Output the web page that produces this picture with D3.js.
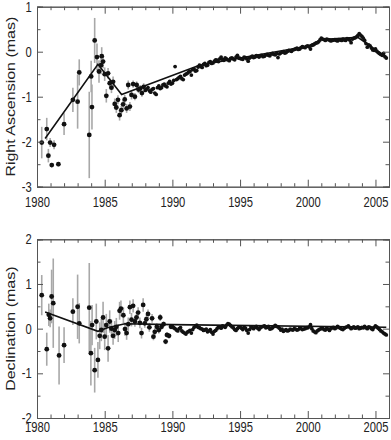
<!DOCTYPE html>
<html><head><meta charset="utf-8">
<script src="https://cdn.jsdelivr.net/npm/d3@7"></script>
<style>body{margin:0;background:#fff}svg{display:block}</style>
</head><body>
<svg id="c" width="391" height="440"></svg>
<script>
// ---------- data ----------
const xMajor = [1980, 1985, 1990, 1995, 2000, 2005];
const xMinor = [1981,1982,1983,1984,1986,1987,1988,1989,1991,1992,1993,1994,1996,1997,1998,1999,2001,2002,2003,2004,2006];
const raTicks = [-3, -2, -1, 0, 1];
const raMinor = [-2.5, -1.5, -0.5, 0.5];
const decTicks = [-2, -1, 0, 1, 2];
const decMinor = [-1.5, -0.5, 0.5, 1.5];

// Right ascension: early epochs with error bars
const raYear = [1980.35,1980.72,1980.84,1980.97,1981.09,1981.26,1981.58,1982.00,1982.65,1983.00,1983.12,1983.86,1984.00,1984.06,1984.26,1984.43,1984.58,1984.73,1984.78,1984.88,1985.00,1985.12,1985.25,1985.37,1985.50,1985.62,1985.74,1985.86,1985.98,1986.10,1986.23,1986.36,1986.48,1986.62,1986.74,1986.86,1986.98,1987.10,1987.23,1987.36,1987.50,1987.62,1987.75,1987.88];
const raVal  = [-2.02,-1.72,-2.31,-2.02,-2.52,-2.07,-2.50,-1.61,-1.07,-1.11,-0.46,-1.85,-0.55,-1.23,0.25,-0.12,-0.44,-0.30,-0.10,-0.22,-0.50,-0.98,-0.48,-0.70,-0.80,-0.67,-1.16,-1.24,-1.07,-1.41,-1.30,-1.17,-1.06,-1.26,-0.74,-1.22,-0.96,-0.72,-1.00,-0.74,-0.84,-0.82,-0.92,-0.78];
const raErr  = [0.35,0.25,0.15,0.10,0.05,0.10,0.05,0.24,0.27,0.60,0.29,0.96,0.35,0.50,0.50,0.30,0.25,0.20,0.20,0.15,0.15,0.15,0.12,0.12,0.12,0.12,0.12,0.12,0.10,0.12,0.10,0.10,0.10,0.10,0.10,0.10,0.10,0.08,0.08,0.08,0.08,0.08,0.08,0.08];
// Right ascension: dense recent epochs (two interleaved sets)
const raDenseYear = [1988.0,1988.2,1988.4,1988.6,1988.8,1989.0,1989.2,1989.4,1989.6,1989.8,1990.0,1990.2,1990.4,1990.6,1990.8,1991.0,1991.2,1991.4,1991.6,1991.8,1992.0,1992.2,1992.4,1992.6,1992.8,1993.0,1993.2,1993.4,1993.6,1993.8,1994.0,1994.2,1994.4,1994.6,1994.8,1995.0,1995.2,1995.4,1995.6,1995.8,1996.0,1996.2,1996.4,1996.6,1996.8,1997.0,1997.2,1997.4,1997.6,1997.8,1998.0,1998.2,1998.4,1998.6,1998.8,1999.0,1999.2,1999.4,1999.6,1999.8,2000.0,2000.2,2000.4,2000.6,2000.8,2001.0,2001.2,2001.4,2001.6,2001.8,2002.0,2002.2,2002.4,2002.6,2002.8,2003.0,2003.2,2003.4,2003.6,2003.8,2004.0,2004.2,2004.4,2004.6,2004.8,2005.0,2005.2,2005.4,2005.6,2005.8];
const raDenseVal = [-0.86,-0.80,-0.90,-0.82,-0.95,-0.76,-0.80,-0.72,-0.78,-0.66,-0.70,-0.33,-0.60,-0.55,-0.62,-0.50,-0.45,-0.52,-0.38,-0.42,-0.30,-0.35,-0.26,-0.30,-0.22,-0.25,-0.18,-0.22,-0.12,-0.19,-0.16,-0.20,-0.14,-0.18,-0.08,-0.15,-0.17,-0.13,-0.21,-0.12,-0.13,-0.09,-0.12,-0.08,-0.10,-0.06,-0.09,-0.04,-0.07,-0.13,-0.03,0.00,-0.02,0.03,0.01,0.05,0.08,0.06,0.11,0.09,0.13,0.06,0.15,0.19,0.22,0.30,0.27,0.28,0.26,0.25,0.27,0.24,0.26,0.28,0.25,0.28,0.20,0.30,0.33,0.40,0.34,0.25,0.10,0.13,0.04,0.06,-0.02,-0.06,-0.04,-0.14];
const raDense2Year = [1988.1,1988.3,1988.5,1988.7,1988.9,1989.1,1989.3,1989.5,1989.7,1989.9,1990.1,1990.3,1990.5,1990.7,1990.9,1991.1,1991.3,1991.5,1991.7,1991.9,1992.1,1992.3,1992.5,1992.7,1992.9,1993.1,1993.3,1993.5,1993.7,1993.9,1994.1,1994.3,1994.5,1994.7,1994.9,1995.1,1995.3,1995.5,1995.7,1995.9,1996.1,1996.3,1996.5,1996.7,1996.9,1997.1,1997.3,1997.5,1997.7,1997.9,1998.1,1998.3,1998.5,1998.7,1998.9,1999.1,1999.3,1999.5,1999.7,1999.9,2000.1,2000.3,2000.5,2000.7,2000.9,2001.1,2001.3,2001.5,2001.7,2001.9,2002.1,2002.3,2002.5,2002.7,2002.9,2003.1,2003.3,2003.5,2003.7,2003.9,2004.1,2004.3,2004.5,2004.7,2004.9,2005.1,2005.3,2005.5,2005.7];
const raDense2Val = [-0.83,-0.87,-0.84,-0.92,-0.80,-0.82,-0.74,-0.76,-0.70,-0.72,-0.64,-0.62,-0.57,-0.60,-0.52,-0.48,-0.44,-0.40,-0.43,-0.34,-0.33,-0.28,-0.31,-0.24,-0.26,-0.21,-0.19,-0.16,-0.17,-0.14,-0.18,-0.15,-0.16,-0.12,-0.14,-0.16,-0.12,-0.16,-0.14,-0.10,-0.12,-0.10,-0.09,-0.11,-0.07,-0.08,-0.05,-0.06,-0.04,-0.05,-0.01,-0.03,0.01,0.02,0.04,0.06,0.05,0.09,0.10,0.12,0.11,0.14,0.17,0.20,0.26,0.28,0.25,0.27,0.24,0.26,0.25,0.27,0.25,0.26,0.29,0.26,0.28,0.31,0.36,0.37,0.30,0.18,0.15,0.08,0.03,0.01,-0.04,-0.08,-0.11];
const raFitYear = [1980.6,1984.5,1986.25,1992.0,1995.0,2000.0,2001.0,2003.7,2005.8];
const raFitVal  = [-1.93,-0.28,-0.95,-0.30,-0.14,0.12,0.27,0.32,-0.12];

// Declination: early epochs with error bars
const decYear = [1980.35,1980.72,1980.87,1980.97,1981.08,1981.20,1981.63,1982.00,1982.65,1983.00,1983.12,1983.86,1983.98,1984.07,1984.26,1984.38,1984.50,1984.63,1984.75,1984.88,1985.00,1985.12,1985.25,1985.37,1985.50,1985.62,1985.74,1985.86,1986.00,1986.10,1986.20,1986.38,1986.50,1986.62,1986.74,1986.86,1986.98,1987.10,1987.23,1987.35,1987.47,1987.60,1987.72,1987.84,1987.96,1988.08,1988.20,1988.30,1988.50,1988.60,1988.70,1988.85,1989.00,1989.10,1989.20,1989.35,1989.50,1989.60,1989.75,1989.90];
const decVal  = [0.75,-0.46,0.31,0.23,0.72,0.57,-0.60,-0.37,0.38,0.49,0.12,0.47,-0.55,0.08,-0.93,0.16,-0.70,-0.16,-0.03,0.25,-0.18,0.08,-0.44,0.16,0.00,-0.16,-0.03,0.04,-0.10,0.40,0.45,0.30,-0.01,-0.10,0.10,0.48,0.20,0.51,0.16,0.25,0.36,0.13,-0.10,0.53,0.12,0.21,0.33,0.03,0.23,-0.18,-0.07,0.04,-0.03,0.25,0.04,0.10,-0.29,-0.14,-0.16,0.04];
const decErr  = [0.45,0.37,0.25,0.20,0.60,1.00,0.65,0.40,0.30,0.72,0.45,1.00,0.72,0.45,0.50,0.40,0.40,0.30,0.25,0.35,0.30,0.25,0.30,0.25,0.20,0.20,0.20,0.20,0.20,0.20,0.18,0.18,0.15,0.15,0.15,0.15,0.15,0.15,0.12,0.12,0.12,0.12,0.12,0.15,0.10,0.10,0.10,0.10,0.10,0.08,0.08,0.08,0.08,0.08,0.06,0.06,0.06,0.06,0.06,0.05];
// Declination: dense recent epochs (two interleaved sets)
const decDenseYear = [1990.0,1990.2,1990.4,1990.6,1990.8,1991.0,1991.2,1991.4,1991.6,1991.8,1992.0,1992.2,1992.4,1992.6,1992.8,1993.0,1993.2,1993.4,1993.6,1993.8,1994.0,1994.2,1994.4,1994.6,1994.8,1995.0,1995.2,1995.4,1995.6,1995.8,1996.0,1996.2,1996.4,1996.6,1996.8,1997.0,1997.2,1997.4,1997.6,1997.8,1998.0,1998.2,1998.4,1998.6,1998.8,1999.0,1999.2,1999.4,1999.6,1999.8,2000.0,2000.2,2000.4,2000.6,2000.8,2001.0,2001.2,2001.4,2001.6,2001.8,2002.0,2002.2,2002.4,2002.6,2002.8,2003.0,2003.2,2003.4,2003.6,2003.8,2004.0,2004.2,2004.4,2004.6,2004.8,2005.0,2005.2,2005.4,2005.6,2005.8];
const decDenseVal = [0.05,0.00,-0.05,0.02,-0.08,-0.12,-0.06,-0.10,0.03,0.08,0.02,-0.01,-0.03,-0.07,-0.02,-0.12,-0.04,0.04,0.01,0.05,0.08,0.10,0.04,-0.02,0.00,0.04,-0.02,0.01,-0.10,0.04,0.00,0.05,-0.02,0.04,0.06,0.03,-0.01,0.02,0.07,0.04,-0.03,-0.06,-0.02,-0.04,-0.02,0.00,-0.03,0.01,-0.02,0.00,0.02,0.09,-0.05,-0.09,-0.03,0.00,-0.02,0.01,-0.04,0.02,0.00,0.05,0.01,-0.02,0.03,0.06,0.00,0.04,0.02,0.00,0.03,0.05,0.00,0.03,-0.02,0.06,0.01,-0.05,-0.10,-0.14];
const decDense2Year = [1990.1,1990.3,1990.5,1990.7,1990.9,1991.1,1991.3,1991.5,1991.7,1991.9,1992.1,1992.3,1992.5,1992.7,1992.9,1993.1,1993.3,1993.5,1993.7,1993.9,1994.1,1994.3,1994.5,1994.7,1994.9,1995.1,1995.3,1995.5,1995.7,1995.9,1996.1,1996.3,1996.5,1996.7,1996.9,1997.1,1997.3,1997.5,1997.7,1997.9,1998.1,1998.3,1998.5,1998.7,1998.9,1999.1,1999.3,1999.5,1999.7,1999.9,2000.1,2000.3,2000.5,2000.7,2000.9,2001.1,2001.3,2001.5,2001.7,2001.9,2002.1,2002.3,2002.5,2002.7,2002.9,2003.1,2003.3,2003.5,2003.7,2003.9,2004.1,2004.3,2004.5,2004.7,2004.9,2005.1,2005.3,2005.5,2005.7];
const decDense2Val = [0.02,-0.03,0.00,-0.05,-0.10,-0.08,-0.04,-0.02,0.05,0.03,0.00,-0.04,-0.01,-0.05,-0.08,-0.06,0.00,0.03,0.06,0.03,0.11,0.07,0.02,-0.04,0.03,0.01,0.03,-0.04,-0.02,0.02,0.03,0.01,0.02,0.05,0.02,0.05,0.00,0.05,0.05,0.01,-0.01,-0.04,-0.05,-0.01,-0.03,-0.01,-0.02,0.00,-0.01,0.02,0.04,0.00,-0.07,-0.05,-0.01,0.01,-0.03,-0.01,0.00,0.03,0.02,0.03,-0.01,0.01,0.04,0.03,0.02,0.01,0.04,0.01,0.02,0.02,0.04,0.00,0.03,0.04,-0.02,-0.07,-0.12];
const decFitYear = [1980.6,1984.5,1985.2,1986.5,1990.0,2005.8];
const decFitVal  = [0.37,-0.06,0.02,0.11,0.09,0.03];

const raTitle = "Right Ascension (mas)";
const decTitle = "Declination (mas)";

// ---------- drawing ----------
const svg = d3.select("#c");
const X0 = 37, X1 = 389;
const x = d3.scaleLinear().domain([1980, 2006]).range([X0, X1]);
const FONT = "'Liberation Sans', Arial, Helvetica, sans-serif";
const SQ = 0.8; // horizontal squeeze of the glyphs in the reference

function panel(opt) {
  const y = d3.scaleLinear().domain(opt.domain).range([opt.bottom, opt.top]);
  const g = svg.append("g");
  const frameCol = "#555";
  const dYear = opt.dYear.concat(opt.d2Year), dVal = opt.dVal.concat(opt.d2Val);

  // error bars
  g.append("g").selectAll("line").data(opt.year.map((d, i) => i)).join("line")
    .attr("x1", i => x(opt.year[i])).attr("x2", i => x(opt.year[i]))
    .attr("y1", i => y(opt.val[i] - opt.err[i])).attr("y2", i => y(opt.val[i] + opt.err[i]))
    .attr("stroke", "#a8a8a8").attr("stroke-width", 1.6);

  // fit line
  const line = d3.line().x(i => x(opt.fitYear[i])).y(i => y(opt.fitVal[i]));
  g.append("path").attr("d", line(opt.fitYear.map((d, i) => i)))
    .attr("fill", "none").attr("stroke", "#111").attr("stroke-width", 1.6);

  // points
  g.append("g").selectAll("circle").data(opt.year.map((d, i) => i)).join("circle")
    .attr("cx", i => x(opt.year[i])).attr("cy", i => y(opt.val[i])).attr("r", 2.4).attr("fill", "#111");
  g.append("g").selectAll("circle").data(dYear.map((d, i) => i)).join("circle")
    .attr("cx", i => x(dYear[i])).attr("cy", i => y(dVal[i])).attr("r", 1.9).attr("fill", "#111");

  // axes
  const style = a => {
    a.select(".domain").attr("stroke", frameCol).attr("stroke-width", 1);
    a.selectAll(".tick line").attr("stroke", frameCol).attr("stroke-width", 1);
    a.selectAll("text").attr("font-family", FONT).attr("font-size", 14).attr("fill", "#222");
  };
  // bottom major with labels
  const bx = g.append("g").attr("transform", `translate(0,${opt.bottom})`)
    .call(d3.axisBottom(x).tickValues(xMajor).tickSize(-7).tickPadding(opt.xPad).tickFormat(d3.format("d")));
  style(bx);
  bx.selectAll("text").attr("transform", `scale(${SQ},1)`);
  g.append("g").attr("transform", `translate(0,${opt.bottom})`)
    .call(d3.axisBottom(x).tickValues(xMinor).tickSize(-3.5).tickFormat("")).call(style);
  // top
  g.append("g").attr("transform", `translate(0,${opt.top})`)
    .call(d3.axisTop(x).tickValues(xMajor).tickSize(-7).tickFormat("")).call(style);
  g.append("g").attr("transform", `translate(0,${opt.top})`)
    .call(d3.axisTop(x).tickValues(xMinor).tickSize(-3.5).tickFormat("")).call(style);
  // left
  const ly = g.append("g").attr("transform", `translate(${X0},0)`)
    .call(d3.axisLeft(y).tickValues(opt.ticks).tickSize(-6).tickPadding(6.5).tickFormat(d3.format("d")));
  style(ly);
  ly.selectAll("text").attr("transform", `scale(${SQ},1)`).text(d => d < 0 ? "-" + Math.abs(d) : d);
  g.append("g").attr("transform", `translate(${X0},0)`)
    .call(d3.axisLeft(y).tickValues(opt.minor).tickSize(-3.5).tickFormat("")).call(style);
  // right
  g.append("g").attr("transform", `translate(${X1},0)`)
    .call(d3.axisRight(y).tickValues(opt.ticks).tickSize(-6).tickFormat("")).call(style);
  g.append("g").attr("transform", `translate(${X1},0)`)
    .call(d3.axisRight(y).tickValues(opt.minor).tickSize(-3.5).tickFormat("")).call(style);

  // title
  g.append("text")
    .attr("transform", `translate(14.5,${(opt.top + opt.bottom) / 2}) rotate(-90) scale(1,${SQ})`)
    .attr("text-anchor", "middle").attr("font-family", FONT).attr("font-size", 16).attr("fill", "#222")
    .text(opt.title);
}

panel({ domain: [-3, 1], top: 6.7, bottom: 186.7, ticks: raTicks, minor: raMinor, xPad: 10,
  year: raYear, val: raVal, err: raErr, dYear: raDenseYear, dVal: raDenseVal,
  d2Year: raDense2Year, d2Val: raDense2Val,
  fitYear: raFitYear, fitVal: raFitVal, title: raTitle });
panel({ domain: [-2, 2], top: 239.3, bottom: 418, ticks: decTicks, minor: decMinor, xPad: 3.8,
  year: decYear, val: decVal, err: decErr, dYear: decDenseYear, dVal: decDenseVal,
  d2Year: decDense2Year, d2Val: decDense2Val,
  fitYear: decFitYear, fitVal: decFitVal, title: decTitle });
</script>
</body></html>
